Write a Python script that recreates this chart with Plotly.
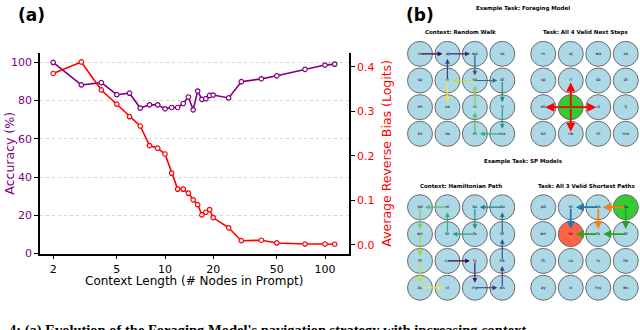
import plotly.graph_objects as go
from plotly.colors import sample_colorscale

W, H = 640, 330

# ---- panel (a) data ----
context_len = [2, 3, 4, 5, 6, 7, 8, 9, 10, 11, 12, 13, 14, 15, 16, 17, 18, 19, 20, 25, 30, 40, 50, 75, 100, 115]
accuracy = [100, 88.2, 89.4, 83.1, 83.9, 76.1, 77.8, 77.8, 75.7, 76.4, 76.4, 78.5, 81.9, 75.2, 85.0, 80.7,
            81.0, 82.7, 82.9, 81.4, 89.9, 91.4, 93.0, 96.4, 98.6, 99.1]
reverse_bias = [0.385, 0.411, 0.348, 0.316, 0.288, 0.267, 0.223, 0.217, 0.204, 0.161, 0.125, 0.125, 0.116,
                0.101, 0.090, 0.067, 0.073, 0.079, 0.061, 0.038, 0.009, 0.010, 0.004, 0.0015, 0.0015, 0.001]
x_ticks = [2, 5, 10, 20, 50, 100]
acc_ticks = [0, 20, 40, 60, 80, 100]
bias_ticks = [0.0, 0.1, 0.2, 0.3, 0.4]

# ---- panel (b) data ----
grid_cols = [0, 1, 2, 3] * 4
grid_rows = [0] * 4 + [1] * 4 + [2] * 4 + [3] * 4
forage_labels = ["m", "aj", "wa", "sa", "sp", "ri", "sb", "dt", "eh", "ox", "rz", "tj", "bz", "rw", "rh", "ma"]
sp_labels = ["pd", "ei", "bs", "du", "wn", "br", "fx", "bt", "fh", "ca", "ts", "hk", "ay", "vi", "my", "ws"]

walk_edges = [((0, 0), (1, 0)), ((1, 0), (2, 0)), ((1, 1), (1, 0)), ((2, 0), (2, 1)), ((2, 1), (3, 1)),
              ((3, 1), (3, 2)), ((3, 2), (3, 3)), ((3, 3), (2, 3)), ((2, 3), (2, 2)), ((2, 2), (2, 1)),
              ((2, 1), (1, 1)), ((1, 1), (1, 2))]
forage_start = (1, 2)
forage_next = [(1, 1), (1, 3), (0, 2), (2, 2)]

ham_path = [(1, 2), (2, 2), (2, 3), (3, 3), (3, 2), (3, 1), (3, 0), (2, 0), (2, 1), (1, 1), (1, 0),
            (0, 0), (0, 1), (0, 2), (0, 3), (1, 3)]
sp_start = (3, 0)
sp_goal = (1, 1)
sp_paths = {
    "#1f77b4": [(3, 0), (2, 0), (1, 0), (1, 1)],
    "#ff7f0e": [(3, 0), (2, 0), (2, 1), (1, 1)],
    "#2ca02c": [(3, 0), (3, 1), (2, 1), (1, 1)],
}


def px_x(a, b):
    return [a / W, b / W]


def px_y(top, bottom):
    return [1 - bottom / H, 1 - top / H]


fig = go.Figure()

fig.add_trace(go.Scatter(x=context_len, y=accuracy, mode="lines+markers", xaxis="x", yaxis="y",
                         line=dict(color="purple", width=1.6),
                         marker=dict(symbol="circle", size=4.5, color="white",
                                     line=dict(color="purple", width=1.2)),
                         showlegend=False))
fig.add_trace(go.Scatter(x=context_len, y=reverse_bias, mode="lines+markers", xaxis="x", yaxis="y2",
                         line=dict(color="red", width=1.6),
                         marker=dict(symbol="circle", size=4.5, color="white",
                                     line=dict(color="red", width=1.2)),
                         showlegend=False))

# grids for panel (b): (axis suffix, x domain px, y domain px)
grids = [
    ("3", (406.3, 516.0), (41.4, 150.3)),
    ("4", (529.5, 639.5), (41.4, 150.3)),
    ("5", (406.3, 516.0), (198.0, 307.7)),
    ("6", (529.5, 639.5), (198.0, 307.7)),
]

node_colors = {k: ["#ADD8E6"] * 16 for k in ("3", "4", "5", "6")}
node_colors["4"][forage_start[1] * 4 + forage_start[0]] = "#32CD32"
node_colors["6"][sp_start[1] * 4 + sp_start[0]] = "#32CD32"
node_colors["6"][sp_goal[1] * 4 + sp_goal[0]] = "#FF6347"

for key, xd, yd in grids:
    labels = forage_labels if key in ("3", "4") else sp_labels
    fig.add_trace(go.Scatter(x=grid_cols, y=grid_rows, mode="markers+text", text=labels,
                             textposition="middle center", textfont=dict(size=4, color="black"),
                             xaxis="x" + key, yaxis="y" + key, hoverinfo="skip",
                             marker=dict(size=25, color=node_colors[key],
                                         line=dict(color="#6b6b6b", width=1)),
                             showlegend=False))
    fig.update_layout(**{
        "xaxis" + key: dict(domain=px_x(*xd), range=[-0.5, 3.5], visible=False, anchor="y" + key),
        "yaxis" + key: dict(domain=px_y(*yd), range=[3.5, -0.5], visible=False, anchor="x" + key),
    })

annotations = []


def arrow(key, a, b, color, width=1.2, size=0.8, standoff=5):
    annotations.append(dict(x=b[0], y=b[1], ax=a[0], ay=a[1], xref="x" + key, yref="y" + key,
                            axref="x" + key, ayref="y" + key, showarrow=True, arrowhead=2,
                            arrowsize=size, arrowwidth=width, arrowcolor=color, standoff=standoff,
                            text=""))


walk_cols = sample_colorscale("Viridis", [i / (len(walk_edges) - 1) for i in range(len(walk_edges))])
for (a, b), c in zip(walk_edges, walk_cols):
    arrow("3", a, b, c)

for n in forage_next:
    arrow("4", forage_start, n, "red", width=1.8, size=1.0, standoff=2)

ham_cols = sample_colorscale("Viridis", [i / (len(ham_path) - 2) for i in range(len(ham_path) - 1)])
for i, c in enumerate(ham_cols):
    arrow("5", ham_path[i], ham_path[i + 1], c)

for c, path in sp_paths.items():
    for i in range(len(path) - 1):
        arrow("6", path[i], path[i + 1], c, width=1.8, size=0.9, standoff=5)

font = "DejaVu Sans"


def text(s, x, y, size, color="black", bold=False, angle=0, xanchor="center", fam=font):
    annotations.append(dict(text="<b>%s</b>" % s if bold else s, x=x / W, y=1 - y / H, xref="paper",
                            yref="paper", showarrow=False, xanchor=xanchor, yanchor="middle",
                            textangle=angle, font=dict(family=fam, size=size, color=color)))


text("(a)", 16, 15, 17, bold=True, xanchor="left")
text("(b)", 404, 15, 17, bold=True, xanchor="left")
text("Context Length (# Nodes in Prompt)", 194, 287, 12)
text("Accuracy (%)", 10, 157, 12.5, color="purple", angle=-90)
text("Average Reverse Bias (Logits)", 387, 157, 12.5, color="red", angle=-90)
text("Example Task: Foraging Model", 523, 9, 5.5, bold=True)
text("Context: Random Walk", 460, 33, 5.5, bold=True)
text("Task: All 4 Valid Next Steps", 585, 33, 5.5, bold=True)
text("Example Task: SP Models", 523, 165, 5.5, bold=True)
text("Context: Hamiltonian Path", 461, 190, 5.5, bold=True)
text("Task: All 3 Valid Shortest Paths", 586, 190, 5.5, bold=True)
# caption line, only its upper half shows at the bottom edge
annotations.append(dict(text="<b>4: (a) Evolution of the Foraging Model's navigation strategy with increasing context</b>",
                        x=7 / W, y=1 - 327 / H, xref="paper", yref="paper", showarrow=False,
                        xanchor="left", yanchor="top",
                        font=dict(family="Liberation Serif", size=14.5, color="black")))

fig.update_layout(
    width=W, height=H,
    margin=dict(l=0, r=0, t=0, b=0),
    paper_bgcolor="white", plot_bgcolor="white",
    font=dict(family=font, size=11, color="black"),
    xaxis=dict(type="log", range=[0.21875, 2.15], domain=px_x(40, 349), anchor="y",
               tickvals=x_ticks, ticktext=[str(v) for v in x_ticks], ticks="outside", ticklen=4,
               tickcolor="black", showline=True, linecolor="black", linewidth=1.6, showgrid=False,
               zeroline=False, tickfont=dict(size=11)),
    yaxis=dict(range=[0, 105], domain=px_y(54, 259), anchor="x", tickvals=acc_ticks, ticks="outside",
               ticklen=4, tickcolor="black", showline=True, linecolor="black", linewidth=1.6,
               showgrid=True, gridcolor="#d5d5d5", griddash="dot", gridwidth=1, zeroline=False,
               tickfont=dict(size=11, color="purple")),
    yaxis2=dict(range=[-0.0198, 0.4315], overlaying="y", side="right", anchor="x", tickvals=bias_ticks,
                tickformat=".1f", ticks="outside", ticklen=4, tickcolor="black", showline=True,
                linecolor="black", linewidth=1.6, showgrid=False, zeroline=False,
                tickfont=dict(size=11, color="red")),
    annotations=annotations,
)

fig.write_html("out.html", config={"displayModeBar": False},
               post_script="document.body.style.margin='0px';document.body.style.padding='0px';")
